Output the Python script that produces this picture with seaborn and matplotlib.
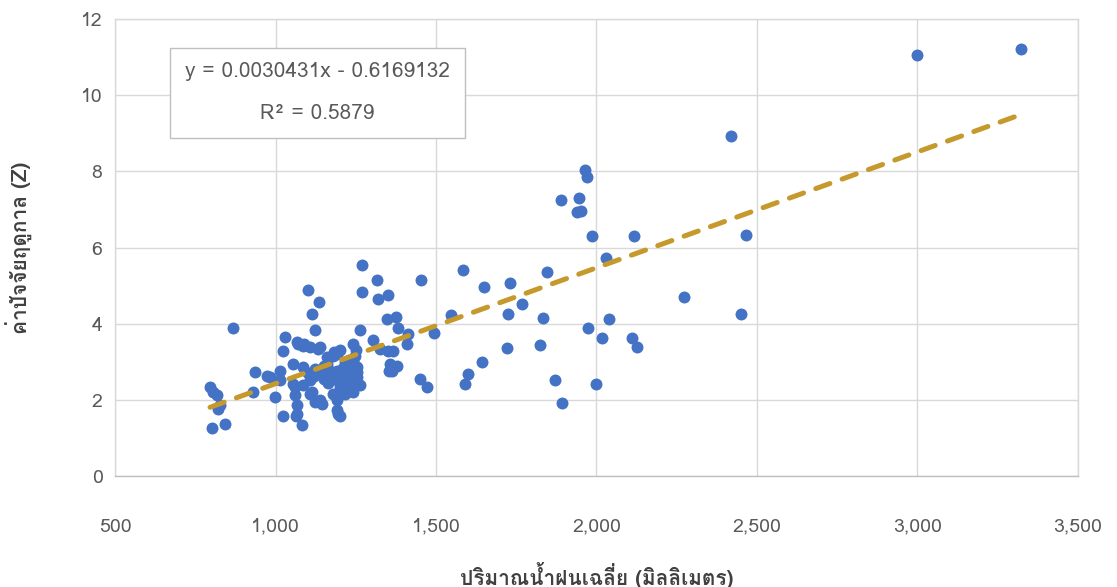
import matplotlib
matplotlib.use("Agg")
import matplotlib.pyplot as plt
import matplotlib.font_manager as fm
from matplotlib.ft2font import FT2Font
from matplotlib.patches import Rectangle
from matplotlib.ticker import FuncFormatter
import pandas as pd
import seaborn as sns

# average rainfall (mm) and seasonal factor Z
rainfall = [
    3322, 2998, 2419, 2466, 2273, 2451, 1964, 1969, 1888, 1946, 1940, 1952, 1985,
    2116, 2030, 1845, 1832, 2039, 1974, 2018, 1824, 2111, 2125, 1872, 1997, 1893,
    1585, 1650, 1730, 1546, 1494, 1767, 1725, 1720, 1644, 1601, 1590, 1450, 1472,
    1453, 1414, 1409,
    1269, 1315, 1102, 1269, 1320, 1351, 1136, 1115, 1346, 1375, 1382, 1123, 1263, 1305,
    868, 936, 796, 806, 817, 827, 820, 843, 801, 931, 973, 983,
    1030, 1024, 1071, 1087, 1107, 1139, 1160, 1182, 1242, 1248, 1326, 1351, 1367,
    1357, 1378, 1362, 1354, 1014, 1055, 1087, 1123, 1160, 1180, 1014, 1055, 1087,
    1107, 1139, 1170, 1191, 1201, 1222, 1232, 1253, 1253, 1253, 1248, 1232, 1263,
    1232, 1211, 1201, 1180, 1191, 1191, 1191, 1196, 1201, 1191, 1107, 1113, 1123,
    1139, 1144, 1061, 1061, 998, 1066, 1066, 1024, 1064, 1082, 1089, 1066, 1133,
    1150, 1165, 1175, 1210, 1220, 1240, 1210, 1215, 1230, 1245, 1120, 1100, 1150,
    1240, 1215, 1250, 1190, 1200,
]
z_value = [
    11.22, 11.06, 8.92, 6.33, 4.71, 4.25, 8.03, 7.84, 7.24, 7.30, 6.93, 6.95, 6.31,
    6.31, 5.73, 5.37, 4.16, 4.12, 3.90, 3.63, 3.45, 3.63, 3.40, 2.51, 2.41, 1.93,
    5.41, 4.97, 5.06, 4.22, 3.76, 4.51, 4.25, 3.35, 2.99, 2.68, 2.41, 2.56, 2.33,
    5.15, 3.73, 3.47,
    5.54, 5.15, 4.88, 4.84, 4.66, 4.75, 4.56, 4.25, 4.12, 4.18, 3.89, 3.84, 3.84, 3.58,
    3.90, 2.73, 2.33, 2.20, 2.12, 1.86, 1.75, 1.38, 1.25, 2.20, 2.64, 2.60,
    3.64, 3.29, 3.47, 3.42, 3.38, 3.38, 3.12, 3.25, 3.47, 3.16, 3.34, 3.29, 3.29,
    2.95, 2.90, 2.77, 2.75, 2.77, 2.95, 2.86, 2.82, 2.95, 3.16, 2.51, 2.42, 2.38,
    2.51, 2.68, 2.77, 2.77, 2.68, 2.77, 2.86, 2.86, 2.73, 2.60, 2.51, 2.60, 2.38,
    2.33, 2.33, 2.33, 2.16, 2.51, 2.07, 1.99, 1.64, 1.59, 1.73, 2.16, 2.20, 1.94,
    1.99, 1.90, 2.33, 2.12, 2.07, 1.86, 1.64, 1.59, 1.57, 1.33, 3.47, 3.51, 3.34,
    2.55, 2.45, 2.60, 2.50, 2.62, 2.45, 2.85, 3.00, 3.05, 2.95, 2.62, 2.70, 2.90,
    2.20, 2.15, 3.30, 3.20, 3.30,
]

# trendline shown on the chart
slope = 0.0030431
intercept = -0.6169132
r_squared = 0.5879

x_ticks = [500, 1000, 1500, 2000, 2500, 3000, 3500]
y_ticks = [0, 2, 4, 6, 8, 10, 12]
x_label = "ปริมาณน้ำฝนเฉลี่ย (มิลลิเมตร)"
y_label = "ค่าปัจจัยฤดูกาล (Z)"

TEXT_GREY = "#595959"
GRID_GREY = "#D9D9D9"


def find_thai_font():
    for f in fm.fontManager.ttflist:
        try:
            if FT2Font(f.fname).get_char_index(0x0E04):
                return f.name
        except Exception:
            continue
    return None


sns.set_style("white")
thai = find_thai_font()
families = ["DejaVu Sans"]
if thai:
    families = [thai, "DejaVu Sans"]
plt.rcParams["font.family"] = families

data = pd.DataFrame({"rainfall": rainfall, "z": z_value})
trend = pd.DataFrame({"rainfall": [min(rainfall), max(rainfall)]})
trend["z"] = slope * trend["rainfall"] + intercept

fig = plt.figure(figsize=(11.17, 5.87), dpi=100)
ax = fig.add_axes([0.103, 0.189, 0.862, 0.7785])

sns.scatterplot(data=data, x="rainfall", y="z", ax=ax, color="#4472C4",
                s=74, linewidth=0, zorder=3)
sns.lineplot(data=trend, x="rainfall", y="z", ax=ax, color="#C5992C",
             linewidth=3.6, zorder=4)
ax.lines[-1].set_dashes((3, 2.6))
ax.lines[-1].set_dash_capstyle("round")

ax.set_xlim(500, 3500)
ax.set_ylim(0, 12)
ax.set_xticks(x_ticks)
ax.set_yticks(y_ticks)
ax.xaxis.set_major_formatter(FuncFormatter(lambda v, p: f"{int(v):,}"))
ax.grid(True, color=GRID_GREY, linewidth=1.0)
ax.set_axisbelow(True)
for side in ["top", "right", "left"]:
    ax.spines[side].set_color(GRID_GREY)
ax.spines["bottom"].set_color("#BFBFBF")
for sp in ax.spines.values():
    sp.set_linewidth(1.0)

ax.tick_params(axis="both", length=0, labelsize=14, labelcolor=TEXT_GREY)
ax.tick_params(axis="y", pad=9)
ax.tick_params(axis="x", pad=30)

ax.set_xlabel(x_label, fontsize=15, fontweight="bold", color="#404040", va="center")
ax.set_ylabel(y_label, fontsize=15, fontweight="bold", color="#404040", va="center")
ax.xaxis.set_label_coords(0.5, -0.217)
ax.yaxis.set_label_coords(-0.099, 0.5)

# equation box
ax.add_patch(Rectangle((0.057, 0.740), 0.306, 0.197, transform=ax.transAxes,
                       facecolor="white", edgecolor="#BFBFBF", linewidth=1.0,
                       zorder=5))
ax.text(0.21, 0.886, f"y = {slope:.7f}x - {abs(intercept):.7f}", transform=ax.transAxes,
        ha="center", va="center", fontsize=15, color=TEXT_GREY, zorder=6)
ax.text(0.21, 0.794, f"R² = {r_squared}", transform=ax.transAxes,
        ha="center", va="center", fontsize=15, color=TEXT_GREY, zorder=6)

fig.savefig("out.png", dpi=100)
